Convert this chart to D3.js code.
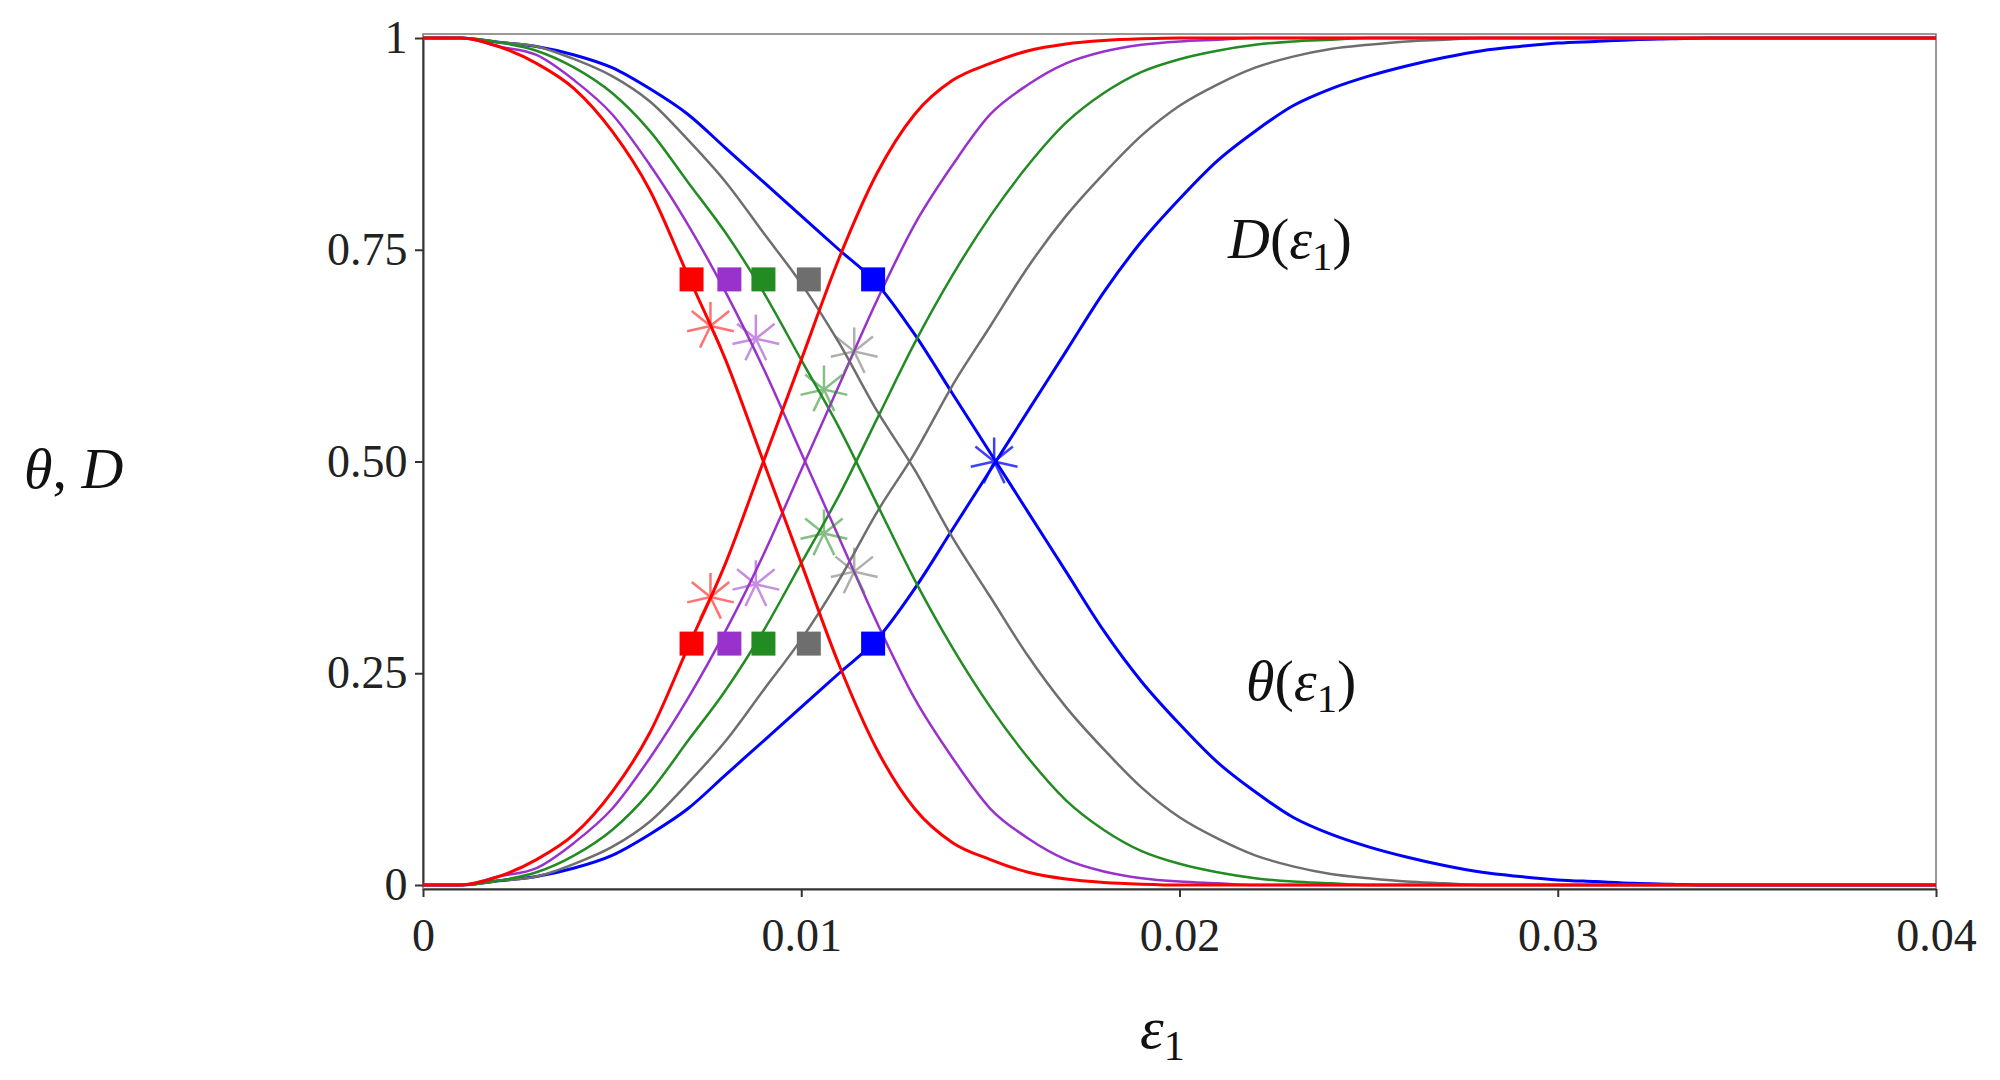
<!DOCTYPE html>
<html>
<head>
<meta charset="utf-8">
<script src="https://cdn.jsdelivr.net/npm/d3@7"></script>
<style>
  body { margin: 0; background: #fff; }
  text { font-family: "Liberation Serif", "DejaVu Serif", serif; }
</style>
</head>
<body>
<svg id="chart" width="2000" height="1080"></svg>
<script>
// eps grid (step 0.001), values beyond a series' length stay at its last value
const epsGrid = d3.range(0, 36).map(i => i / 1000).concat([0.04]);

const seriesNames = ["red", "purple", "green", "gray", "blue"];
const seriesColors = ["#ff0000", "#9932cc", "#228b22", "#6e6e6e", "#0000ff"];

// theta(eps1), falling curves
const thetaRed = [1, 1, .99, .97, .94, .89, .82, .72, .62, .50, .38, .26, .16, .09, .05, .03, .015, .007, .003, .001, 0];
const thetaPurple = [1, 1, .99, .98, .95, .91, .85, .78, .70, .61, .51, .41, .31, .22, .15, .09, .055, .03, .016, .008, .004, .002, 0];
const thetaGreen = [1, 1, .995, .985, .965, .935, .89, .83, .77, .70, .62, .54, .45, .36, .28, .21, .15, .10, .065, .04, .025, .015, .008, .004, .002, 0];
const thetaGray = [1, 1, .995, .99, .975, .955, .925, .88, .83, .77, .71, .64, .56, .49, .41, .34, .27, .21, .16, .115, .08, .055, .035, .022, .013, .008, .004, .002, 0];
const thetaBlue = [1, 1, .995, .99, .98, .965, .94, .91, .87, .83, .79, .75, .71, .65, .58, .51, .44, .37, .30, .24, .19, .145, .11, .08, .06, .045, .033, .023, .015, .01, .006, .004, .002, .001, 0];

// D(eps1), rising curves
const dRed = [0, 0, .01, .03, .06, .11, .18, .28, .38, .50, .62, .74, .84, .91, .95, .97, .985, .993, .997, .999, 1];
const dPurple = [0, 0, .01, .02, .05, .09, .15, .22, .30, .39, .49, .59, .69, .78, .85, .91, .945, .97, .984, .992, .996, .998, 1];
const dGreen = [0, 0, .005, .015, .035, .065, .11, .17, .23, .30, .38, .46, .55, .64, .72, .79, .85, .90, .935, .96, .975, .985, .992, .996, .998, 1];
const dGray = [0, 0, .005, .01, .025, .045, .075, .12, .17, .23, .29, .36, .44, .51, .59, .66, .73, .79, .84, .885, .92, .945, .965, .978, .987, .992, .996, .998, 1];
const dBlue = [0, 0, .005, .01, .02, .035, .06, .09, .13, .17, .21, .25, .29, .35, .42, .49, .56, .63, .70, .76, .81, .855, .89, .92, .94, .955, .967, .977, .985, .99, .994, .996, .998, .999, 1];

const thetaSeries = [thetaRed, thetaPurple, thetaGreen, thetaGray, thetaBlue];
const dSeries = [dRed, dPurple, dGreen, dGray, dBlue];

// square markers (eps, value) on both families
const squareEps = [0.0071, 0.0081, 0.0090, 0.0102, 0.0119];
const squareUpper = 0.715;
const squareLower = 0.285;

// asterisk markers
const starEps = [0.0076, 0.0088, 0.0106, 0.0114, 0.0151];
const starUpper = [0.66, 0.645, 0.585, 0.63, 0.5];
const starLower = [0.34, 0.355, 0.415, 0.37, 0.5];

const xTicks = [0, 0.01, 0.02, 0.03, 0.04];
const xTickLabels = ["0", "0.01", "0.02", "0.03", "0.04"];
const yTicks = [0, 0.25, 0.5, 0.75, 1];
const yTickLabels = ["0", "0.25", "0.50", "0.75", "1"];

let svg = d3.select("#chart");

const plot = { left: 423, right: 1936, top: 38, bottom: 885 };

let x = d3.scaleLinear().domain([0, 0.04]).range([plot.left, plot.right]);
let y = d3.scaleLinear().domain([0, 1]).range([plot.bottom, plot.top]);

// frame
svg.append("rect")
  .attr("x", plot.left).attr("y", plot.top - 4)
  .attr("width", plot.right - plot.left).attr("height", plot.bottom - plot.top + 8)
  .attr("fill", "none").attr("stroke", "#777").attr("stroke-width", 1.5);

// axes
let xAxis = svg.append("g")
  .attr("transform", `translate(0,${plot.bottom + 4})`)
  .call(d3.axisBottom(x).tickValues(xTicks).tickFormat((d, i) => xTickLabels[i]).tickSize(8).tickSizeOuter(0));
let yAxis = svg.append("g")
  .attr("transform", `translate(${plot.left},0)`)
  .call(d3.axisLeft(y).tickValues(yTicks).tickFormat((d, i) => yTickLabels[i]).tickSize(8).tickSizeOuter(0));

[xAxis, yAxis].forEach(function (a) {
  a.selectAll("path").attr("stroke", "#333").attr("stroke-width", 2);
  a.selectAll("line").attr("stroke", "#333").attr("stroke-width", 2);
  a.selectAll("text").attr("font-size", 46).attr("fill", "#222")
    .style("font-family", "'Liberation Serif', serif");
});
xAxis.selectAll("text").attr("dy", "1.1em");
yAxis.selectAll("text").attr("dx", "-0.1em");

// curves
let line = d3.line()
  .x(d => x(d[0]))
  .y(d => y(d[1]))
  .curve(d3.curveMonotoneX);

function toPoints(values) {
  return epsGrid.map((e, i) => [e, values[Math.min(i, values.length - 1)]]);
}

let curves = svg.append("g");
// draw red last so it sits on top
[4, 3, 2, 1, 0].forEach(function (k) {
  [thetaSeries[k], dSeries[k]].forEach(function (vals) {
    curves.append("path")
      .attr("d", line(toPoints(vals)))
      .attr("fill", "none")
      .attr("stroke", seriesColors[k])
      .attr("stroke-width", k === 0 || k === 4 ? 3 : 2.5);
  });
});

// asterisks
function drawStar(cx, cy, color, opacity) {
  let r = 24;
  let g = svg.append("g").attr("opacity", opacity);
  d3.range(7).forEach(function (j) {
    let a = -Math.PI / 2 + j * 2 * Math.PI / 7;
    g.append("line")
      .attr("x1", cx).attr("y1", cy)
      .attr("x2", cx + r * Math.cos(a)).attr("y2", cy + r * Math.sin(a))
      .attr("stroke", color).attr("stroke-width", 2.5);
  });
}
starEps.forEach(function (e, k) {
  let op = k === 4 ? 0.75 : 0.55;
  drawStar(x(e), y(starUpper[k]), seriesColors[k], op);
  if (k !== 4) drawStar(x(e), y(starLower[k]), seriesColors[k], op);
});

// squares
const sq = 24;
squareEps.forEach(function (e, k) {
  [squareUpper, squareLower].forEach(function (v) {
    svg.append("rect")
      .attr("x", x(e) - sq / 2).attr("y", y(v) - sq / 2)
      .attr("width", sq).attr("height", sq)
      .attr("fill", seriesColors[k]);
  });
});

// labels
function mathLabel(tx, ty, parts, size) {
  let t = svg.append("text")
    .attr("x", tx).attr("y", ty)
    .attr("font-size", size).attr("fill", "#111");
  parts.forEach(function (p) {
    let s = t.append("tspan").text(p.t);
    if (p.i) s.attr("font-style", "italic");
    if (p.sub) s.attr("font-size", size * 0.7).attr("dy", size * 0.2);
    if (p.up) s.attr("dy", -size * 0.2);
  });
  return t;
}

mathLabel(1228, 258, [{ t: "D", i: true }, { t: "(" }, { t: "ε", i: true }, { t: "1", sub: true }, { t: ")", up: true }], 58);
mathLabel(1246, 700, [{ t: "θ", i: true }, { t: "(" }, { t: "ε", i: true }, { t: "1", sub: true }, { t: ")", up: true }], 58);
mathLabel(1140, 1048, [{ t: "ε", i: true }, { t: "1", sub: true }], 60);
mathLabel(24, 488, [{ t: "θ", i: true }, { t: ",  " }, { t: "D", i: true }], 58);
</script>
</body>
</html>
